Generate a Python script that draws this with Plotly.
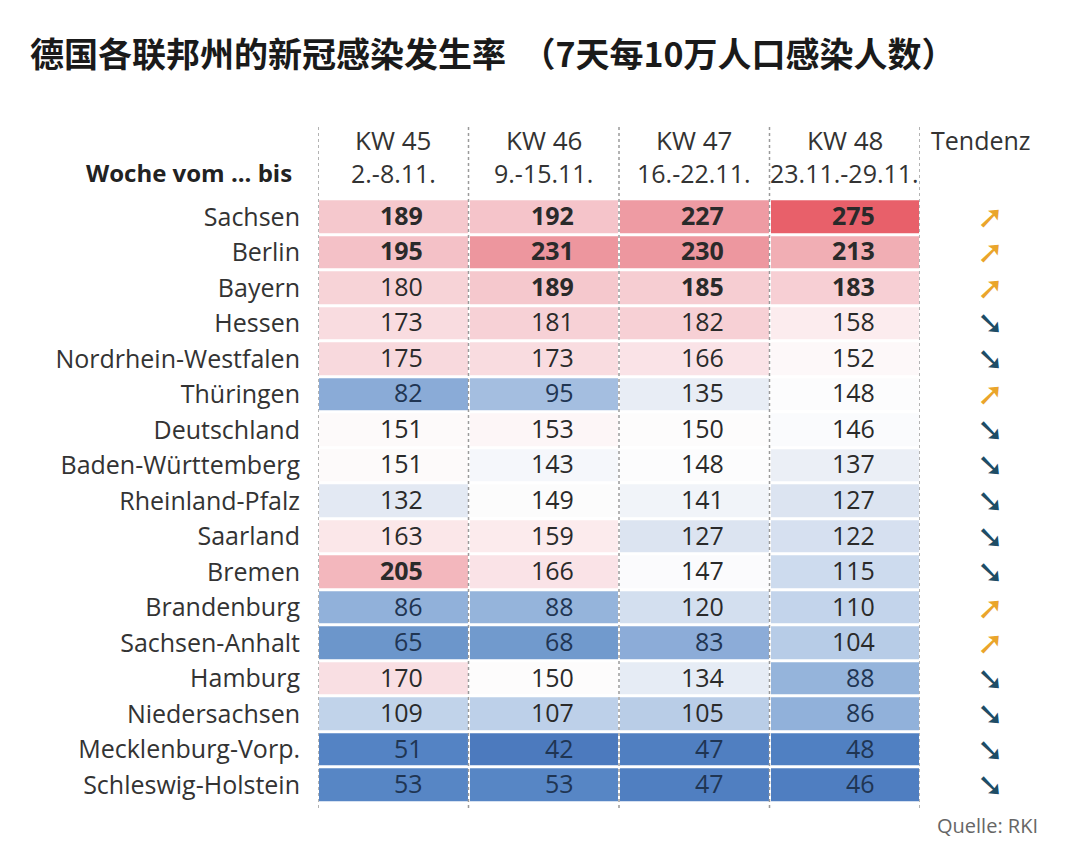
import plotly.graph_objects as go

states = ["Sachsen", "Berlin", "Bayern", "Hessen", "Nordrhein-Westfalen", "Thüringen",
          "Deutschland", "Baden-Württemberg", "Rheinland-Pfalz", "Saarland", "Bremen",
          "Brandenburg", "Sachsen-Anhalt", "Hamburg", "Niedersachsen",
          "Mecklenburg-Vorp.", "Schleswig-Holstein"]
weeks = ["KW 45", "KW 46", "KW 47", "KW 48"]
dates = ["2.-8.11.", "9.-15.11.", "16.-22.11.", "23.11.-29.11."]
kw45 = [189, 195, 180, 173, 175, 82, 151, 151, 132, 163, 205, 86, 65, 170, 109, 51, 53]
kw46 = [192, 231, 189, 181, 173, 95, 153, 143, 149, 159, 166, 88, 68, 150, 107, 42, 53]
kw47 = [227, 230, 185, 182, 166, 135, 150, 148, 141, 127, 147, 120, 83, 134, 105, 47, 47]
kw48 = [275, 213, 183, 158, 152, 148, 146, 137, 127, 122, 115, 110, 104, 88, 86, 48, 46]
trend = ["up", "up", "up", "down", "down", "up", "down", "down", "down", "down", "down",
         "up", "up", "down", "down", "down", "down"]

zmin, zmax = 40, 280
stops = [(40, "#4a78bd"), (50, "#5282c3"), (66, "#6e97cc"), (85, "#8fafd9"),
         (100, "#afc6e4"), (115, "#cddbee"), (128, "#dde5f1"), (138, "#ecf0f7"),
         (146, "#fafbfd"), (150, "#fdfcfc"), (158, "#fcecee"), (172, "#f9dde1"),
         (182, "#f7d0d5"), (195, "#f4c1c7"), (210, "#f2b2b8"), (230, "#ed979f"),
         (275, "#e8606a"), (280, "#e65a64")]
colorscale = [[(v - zmin) / (zmax - zmin), c] for v, c in stops]

cols = [kw45, kw46, kw47, kw48]
z = [[cols[j][i] for j in range(4)] for i in range(len(states))]

FONT = "Open Sans"
# the page body has an 8px margin; map reference pixel positions onto the figure
W, H = 1064, 843
def px(x):
    return (x - 8) / W
def py(y):
    return 1 - (y - 8) / H

fig = go.Figure()
fig.add_trace(go.Heatmap(
    z=z, x=weeks, y=states,
    colorscale=colorscale, zmin=zmin, zmax=zmax, showscale=False,
    xgap=2, ygap=3, hoverinfo="skip"))

# dotted column separators
for k in range(5):
    fig.add_shape(type="line", xref="x", yref="paper", x0=k - 0.5, x1=k - 0.5,
                  y0=py(808), y1=py(125),
                  line=dict(color="#9a9a9a", width=1.5, dash="dot"), layer="above")

annotations = []
# cell values, right-aligned a little right of the column centre
for i, s in enumerate(states):
    for j, wk in enumerate(weeks):
        v = z[i][j]
        annotations.append(dict(
            x=wk, xref="x", y=s, yref="y",
            text=f"<b>{v}</b>" if v >= 183 else str(v),
            showarrow=False, xanchor="right", yanchor="middle", xshift=32, yshift=2,
            font=dict(family=FONT, size=25,
                      color="#1f3553" if v < 100 else "#2a2a2a")))
for wk, dt in zip(weeks, dates):
    annotations.append(dict(x=wk, xref="x", y=py(140), yref="paper", text=wk,
                            showarrow=False, font=dict(family=FONT, size=26, color="#333"),
                            xanchor="center", yanchor="middle"))
    annotations.append(dict(x=wk, xref="x", y=py(173), yref="paper", text=dt,
                            showarrow=False, font=dict(family=FONT, size=25, color="#333"),
                            xanchor="center", yanchor="middle"))
annotations.append(dict(x=px(981), xref="paper", y=py(140), yref="paper", text="Tendenz",
                        showarrow=False, font=dict(family=FONT, size=25, color="#333"),
                        xanchor="center", yanchor="middle"))
annotations.append(dict(x=px(294), xref="paper", y=py(172), yref="paper",
                        text="<b>Woche vom ... bis</b>", showarrow=False,
                        font=dict(family=FONT, size=24, color="#222"),
                        xanchor="right", yanchor="middle"))
for s, t in zip(states, trend):
    annotations.append(dict(x=px(990), xref="paper", y=s, yref="y",
                            text="➚" if t == "up" else "➘", showarrow=False,
                            font=dict(family="DejaVu Sans", size=32,
                                      color="#eaa52b" if t == "up" else "#1e4d66"),
                            xanchor="center", yanchor="middle"))
annotations.append(dict(x=px(1040), xref="paper", y=py(825), yref="paper",
                        text="Quelle: RKI", showarrow=False,
                        font=dict(family=FONT, size=20, color="#666"),
                        xanchor="right", yanchor="middle"))
annotations.append(dict(x=px(28), xref="paper", y=py(52), yref="paper",
                        text="<b>德国各联邦州的新冠感染发生率  （7天每10万人口感染人数）</b>",
                        showarrow=False,
                        font=dict(family="Noto Sans CJK SC", size=34, color="#1a1a1a"),
                        xanchor="left", yanchor="middle"))

fig.update_layout(
    width=W, height=H, margin=dict(l=0, r=0, t=0, b=0),
    paper_bgcolor="white", plot_bgcolor="white",
    annotations=annotations,
    xaxis=dict(domain=[px(318), px(920)], range=[-0.5, 3.5], showticklabels=False,
               showgrid=False, zeroline=False, fixedrange=True),
    yaxis=dict(domain=[py(806), py(196)], autorange="reversed",
               showgrid=False, zeroline=False, ticks="", ticklabelstandoff=17,
               tickfont=dict(family=FONT, size=25, color="#333")),
)
fig.write_html("out.html")
